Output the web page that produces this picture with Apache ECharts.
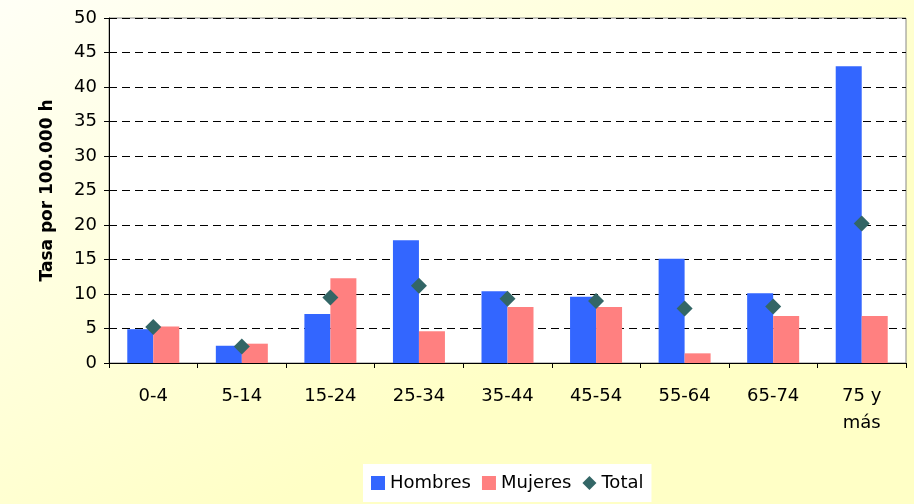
<!DOCTYPE html>
<html>
<head>
<meta charset="utf-8">
<script src="https://cdn.jsdelivr.net/npm/echarts@6/dist/echarts.min.js"></script>
<style>
  html, body { margin: 0; padding: 0; }
  #chart { width: 914px; height: 504px; }
</style>
</head>
<body>
<div id="chart"></div>
<script>
// age groups and rates per 100.000 inhabitants
const categories = ['0-4', '5-14', '15-24', '25-34', '35-44', '45-54', '55-64', '65-74', '75 y\nmás'];
const hombres = [4.9, 2.5, 7.1, 17.8, 10.4, 9.6, 15.1, 10.1, 43.0];
const mujeres = [5.3, 2.8, 12.3, 4.6, 8.1, 8.1, 1.4, 6.8, 6.8];
const total = [5.2, 2.4, 9.5, 11.2, 9.3, 9.0, 7.9, 8.2, 20.2];

// the original text is a wide sans, DejaVu fits its metrics best
const FONT = '"DejaVu Sans", sans-serif';

const chart = echarts.init(document.getElementById('chart'));

chart.setOption({
  backgroundColor: {
    type: 'linear', x: 0, y: 0, x2: 0.3, y2: 1,
    colorStops: [
      { offset: 0, color: '#FFFFF6' },
      { offset: 1, color: '#FFFFC6' }
    ]
  },
  animation: false,
  textStyle: { fontFamily: FONT },
  grid: {
    left: 109, right: 8, top: 18, bottom: 141,
    show: true,
    backgroundColor: '#fff',
    borderColor: '#888',
    borderWidth: 1
  },
  legend: {
    bottom: 2,
    left: 363, // legend box sits right of centre in the original
    backgroundColor: '#fff',
    padding: [10, 8, 10, 8],
    itemGap: 11,
    itemWidth: 14,
    itemHeight: 14,
    textStyle: { fontSize: 18, color: '#000', fontFamily: FONT },
    data: [
      { name: 'Hombres', icon: 'rect' },
      { name: 'Mujeres', icon: 'rect' },
      { name: 'Total', icon: 'diamond' }
    ]
  },
  xAxis: {
    type: 'category',
    data: categories,
    axisLine: { lineStyle: { color: '#000', width: 1 } },
    axisTick: { show: true, length: 5, lineStyle: { color: '#000' } },
    axisLabel: { color: '#000', fontSize: 18, margin: 20, lineHeight: 27, fontFamily: FONT },
    splitLine: { show: false }
  },
  yAxis: {
    type: 'value',
    min: 0, max: 50, interval: 5,
    name: 'Tasa por 100.000 h',
    nameLocation: 'middle',
    nameGap: 53,
    nameTextStyle: { fontSize: 17, fontWeight: 'bold', color: '#000', fontFamily: FONT },
    axisLine: { show: true, lineStyle: { color: '#000', width: 1 } },
    axisTick: { show: true, length: 5, lineStyle: { color: '#000' } },
    axisLabel: { color: '#000', fontSize: 18, margin: 12, fontFamily: FONT },
    splitLine: { show: true, lineStyle: { color: '#000', type: [8, 5], width: 1 } }
  },
  series: [
    {
      name: 'Hombres', type: 'bar', data: hombres,
      barWidth: 26, barGap: '0%',
      itemStyle: { color: '#3366FF' }
    },
    {
      name: 'Mujeres', type: 'bar', data: mujeres,
      barWidth: 26, barGap: '0%',
      itemStyle: { color: '#FF8080' }
    },
    {
      name: 'Total', type: 'scatter', data: total,
      symbol: 'diamond', symbolSize: 16,
      itemStyle: { color: '#336666', opacity: 1 },
      z: 5
    }
  ]
});
</script>
</body>
</html>
